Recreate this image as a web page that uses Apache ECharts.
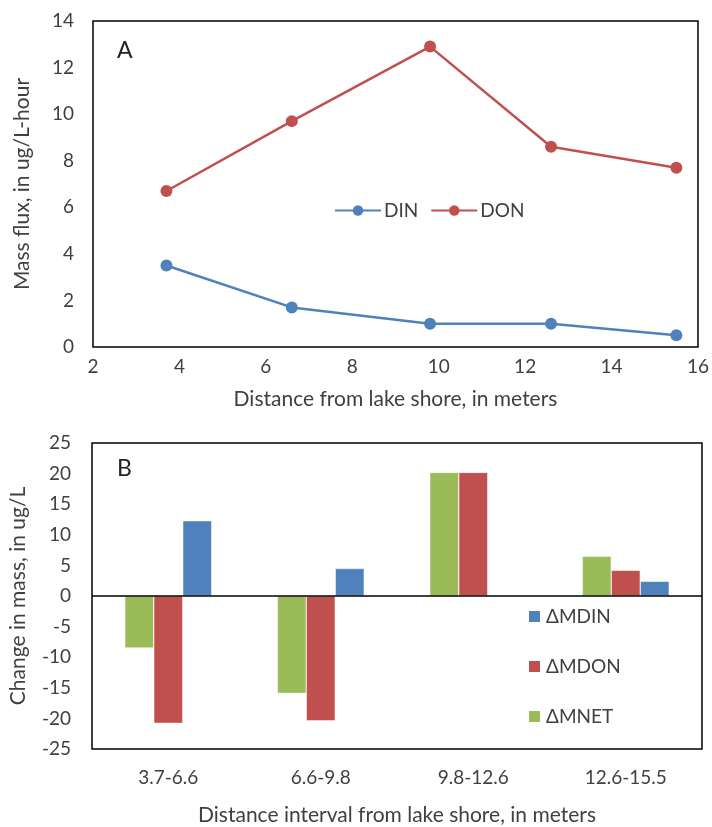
<!DOCTYPE html>
<html>
<head>
<meta charset="utf-8">
<style>
  html, body { margin: 0; padding: 0; background: #fff; }
  #chart { width: 712px; height: 827px; }
</style>
<script src="https://cdn.jsdelivr.net/npm/echarts@6/dist/echarts.min.js"></script>
</head>
<body>
<div id="chart"></div>
<script>
  // panel A: mass flux vs distance
  var distance = [3.7, 6.6, 9.8, 12.6, 15.5]
  var din = [3.5, 1.7, 1.0, 1.0, 0.5]
  var don = [6.7, 9.7, 12.9, 8.6, 7.7]

  // panel B: change in mass per interval
  var intervals = ['3.7-6.6', '6.6-9.8', '9.8-12.6', '12.6-15.5']
  var dMNET = [-8.5, -15.9, 20.2, 6.5]
  var dMDON = [-20.8, -20.4, 20.2, 4.2]
  var dMDIN = [12.3, 4.5, 0, 2.4]

  var FONT = 'Lato'
  var TXT = '#404040'
  var BLUE = '#4F81BD'
  var RED = '#C0504D'
  var GREEN = '#9BBB59'

  function pairs(xs, ys) {
    return xs.map(function (x, i) { return [x, ys[i]] })
  }

  var chart = echarts.init(document.getElementById('chart'))
  chart.setOption({
    animation: false,
    textStyle: { fontFamily: FONT },
    grid: [
      { left: 93, top: 21, width: 608, height: 326, show: true, borderColor: '#000', borderWidth: 1.5 },
      { left: 90, top: 443, width: 612, height: 311, show: true, borderColor: '#000', borderWidth: 1.5 }
    ],
    graphic: [
      { type: 'text', left: 117, top: 39, style: { text: 'A', font: '23px ' + FONT, fill: '#222' } },
      { type: 'text', left: 117, top: 457, style: { text: 'B', font: '23px ' + FONT, fill: '#222' } }
    ],
    legend: [
      {
        data: ['DIN', 'DON'],
        orient: 'horizontal',
        left: 329,
        top: 196,
        itemWidth: 46,
        itemHeight: 13,
        itemGap: 12,
        textStyle: { fontSize: 19, color: TXT, fontFamily: FONT, padding: [0, 0, 0, -2] }
      },
      {
        data: ['ΔMDIN', 'ΔMDON', 'ΔMNET'],
        orient: 'vertical',
        left: 522,
        top: 602,
        itemWidth: 13,
        itemHeight: 13,
        itemGap: 31,
        icon: 'rect',
        textStyle: { fontSize: 19, color: TXT, fontFamily: FONT }
      }
    ],
    xAxis: [
      {
        gridIndex: 0,
        type: 'value',
        min: 2,
        max: 16,
        interval: 2,
        splitLine: { show: false },
        axisTick: { show: false },
        axisLine: { show: false },
        axisLabel: { fontSize: 19, color: TXT, margin: 10 },
        name: 'Distance from lake shore, in meters',
        nameLocation: 'middle',
        nameGap: 42,
        nameTextStyle: { fontSize: 21, color: TXT }
      },
      {
        gridIndex: 1,
        type: 'category',
        data: intervals,
        axisTick: { show: false },
        axisLine: { show: false, onZero: false },
        axisLabel: { fontSize: 19, color: TXT, margin: 19 },
        name: 'Distance interval from lake shore, in meters',
        nameLocation: 'middle',
        nameGap: 56,
        nameTextStyle: { fontSize: 21, color: TXT }
      }
    ],
    yAxis: [
      {
        gridIndex: 0,
        type: 'value',
        min: 0,
        max: 14,
        interval: 2,
        splitLine: { show: false },
        axisTick: { show: false },
        axisLine: { show: false },
        axisLabel: { fontSize: 19, color: TXT, margin: 19 },
        name: 'Mass flux, in ug/L-hour',
        nameLocation: 'middle',
        nameRotate: 90,
        nameGap: 60,
        nameTextStyle: { fontSize: 21, color: TXT }
      },
      {
        gridIndex: 1,
        type: 'value',
        min: -25,
        max: 25,
        interval: 5,
        splitLine: { show: false },
        axisTick: { show: false },
        axisLine: { show: false },
        axisLabel: { fontSize: 19, color: TXT, margin: 21 },
        name: 'Change in mass, in ug/L',
        nameLocation: 'middle',
        nameRotate: 90,
        nameGap: 63,
        nameTextStyle: { fontSize: 21, color: TXT }
      }
    ],
    series: [
      {
        name: 'DIN',
        type: 'line',
        xAxisIndex: 0,
        yAxisIndex: 0,
        data: pairs(distance, din),
        symbol: 'circle',
        symbolSize: 12,
        itemStyle: { color: BLUE },
        lineStyle: { color: BLUE, width: 2.5 }
      },
      {
        name: 'DON',
        type: 'line',
        xAxisIndex: 0,
        yAxisIndex: 0,
        data: pairs(distance, don),
        symbol: 'circle',
        symbolSize: 12,
        itemStyle: { color: RED },
        lineStyle: { color: RED, width: 2.5 }
      },
      {
        name: 'ΔMNET',
        type: 'bar',
        xAxisIndex: 1,
        yAxisIndex: 1,
        data: dMNET,
        barWidth: '19%',
        barGap: '0%',
        itemStyle: { color: GREEN, borderColor: '#fff', borderWidth: 0.5 },
        markLine: {
          silent: true,
          symbol: 'none',
          label: { show: false },
          lineStyle: { color: '#000', width: 1.5, type: 'solid' },
          data: [{ yAxis: 0 }]
        }
      },
      {
        name: 'ΔMDON',
        type: 'bar',
        xAxisIndex: 1,
        yAxisIndex: 1,
        data: dMDON,
        barWidth: '19%',
        barGap: '0%',
        itemStyle: { color: RED, borderColor: '#fff', borderWidth: 0.5 }
      },
      {
        name: 'ΔMDIN',
        type: 'bar',
        xAxisIndex: 1,
        yAxisIndex: 1,
        data: dMDIN,
        barWidth: '19%',
        barGap: '0%',
        itemStyle: { color: BLUE, borderColor: '#fff', borderWidth: 0.5 }
      }
    ]
  })
</script>
</body>
</html>
